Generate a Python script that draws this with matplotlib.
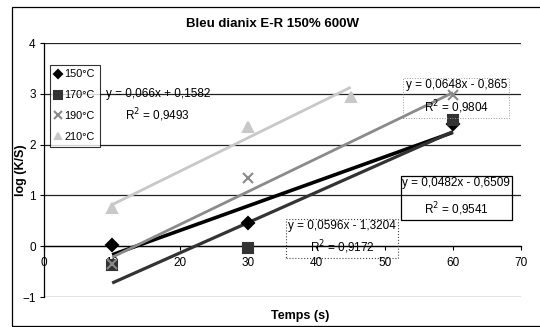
import matplotlib
matplotlib.use('Agg')
import matplotlib.pyplot as plt
import numpy as np

plt.rcParams['font.family'] = ['Liberation Sans', 'DejaVu Sans']

# mesures : temps (s) et log(K/S) pour chaque température
labels = ['150°C', '170°C', '190°C', '210°C']
temps = [[10, 30, 60], [10, 30, 60], [10, 30, 60], [10, 30, 45]]
log_ks = [[0.02, 0.45, 2.40],
          [-0.37, -0.04, 2.48],
          [-0.35, 1.35, 2.98],
          [0.75, 2.34, 2.93]]

# courbes de tendance linéaires (pente, ordonnée à l'origine, R²)
pentes = [0.0482, 0.0596, 0.0648, 0.066]
origines = [-0.6509, -1.3204, -0.865, 0.1582]
r2 = [0.9541, 0.9172, 0.9804, 0.9493]

couleurs = ['#000000', '#333333', '#8a8a8a', '#c8c8c8']
marqueurs = ['D', 's', 'x', '^']
tailles = [6.5, 7.5, 7.5, 6.5]
epaisseurs = [2.6, 2.3, 2.0, 2.0]

fig = plt.figure(figsize=(5.4, 3.27), dpi=100)
ax = fig.add_axes([0.0815, 0.0917, 0.8835, 0.7768])

ax.set_xlim(0, 70)
ax.set_ylim(-1, 4)
ax.set_xticks(np.arange(0, 71, 10))
ax.set_yticks(np.arange(-1, 5, 1))
ax.yaxis.grid(True, color='#222222', lw=0.9)
ax.set_axisbelow(True)

ax.spines['top'].set_visible(False)
ax.spines['right'].set_visible(False)
ax.spines['bottom'].set_position(('data', 0))
ax.spines['left'].set_linewidth(0.9)
ax.spines['bottom'].set_linewidth(0.9)
ax.tick_params(axis='both', direction='out', length=3, width=0.8, labelsize=8.5, pad=3)
ax.tick_params(axis='x', pad=5)

# tendances
for i in range(4):
    xs = np.array([min(temps[i]), max(temps[i])])
    ax.plot(xs, pentes[i] * xs + origines[i], color=couleurs[i], lw=epaisseurs[i],
            solid_capstyle='butt', zorder=3)

# points
for i in range(4):
    ax.plot(temps[i], log_ks[i], linestyle='none', marker=marqueurs[i], ms=tailles[i],
            color=couleurs[i], mec=couleurs[i], mew=1.5, label=labels[i],
            zorder=6, clip_on=False)

def equation(i):
    signe = '+' if origines[i] >= 0 else '-'
    return ('y = ' + f'{pentes[i]:g}'.replace('.', ',') + 'x ' + signe + ' '
            + f'{abs(origines[i]):g}'.replace('.', ',') + '\n'
            + 'R$^2$ = ' + f'{r2[i]:.4f}'.replace('.', ','))

# étiquettes des équations
ax.text(16.7, 2.76, equation(3), ha='center', va='center', fontsize=8.5, linespacing=1.5, zorder=7)
ax.text(60.5, 2.93, equation(2), ha='center', va='center', fontsize=8.5, linespacing=1.5, zorder=7,
        bbox=dict(boxstyle='square,pad=0.2', fc='none', ec='#999999', ls=':', lw=0.7))
ax.text(60.5, 0.96, equation(0), ha='center', va='center', fontsize=8.5, linespacing=1.9, zorder=7,
        bbox=dict(boxstyle='square,pad=0.15', fc='none', ec='black', lw=0.9))
ax.text(43.7, 0.16, equation(1), ha='center', va='center', fontsize=8.5, linespacing=1.5, zorder=7,
        bbox=dict(boxstyle='square,pad=0.15', fc='none', ec='#444444', ls=':', lw=0.8))

leg = ax.legend(loc='upper left', bbox_to_anchor=(0.012, 0.915), fontsize=7.8,
                frameon=True, fancybox=False, borderpad=0.45, labelspacing=1.0,
                handlelength=0.6, handletextpad=0.3, borderaxespad=0, markerscale=0.7)
leg.get_frame().set_edgecolor('black')
leg.get_frame().set_linewidth(0.8)
leg.set_zorder(8)

fig.text(0.504, 0.927, 'Bleu dianix E-R 150% 600W', ha='center', va='center',
         fontsize=9.5, fontweight='bold')
fig.text(0.556, 0.034, 'Temps (s)', ha='center', va='center', fontsize=9, fontweight='bold')
fig.text(0.038, 0.48, 'log (K/S)', ha='center', va='center', rotation=90,
         fontsize=9, fontweight='bold')

# cadre du graphique
fig.add_artist(plt.Rectangle((0.023, 0.003), 1.2, 0.976, transform=fig.transFigure,
                             fill=False, lw=0.9, ec='black'))

fig.savefig('out.png', dpi=100)
